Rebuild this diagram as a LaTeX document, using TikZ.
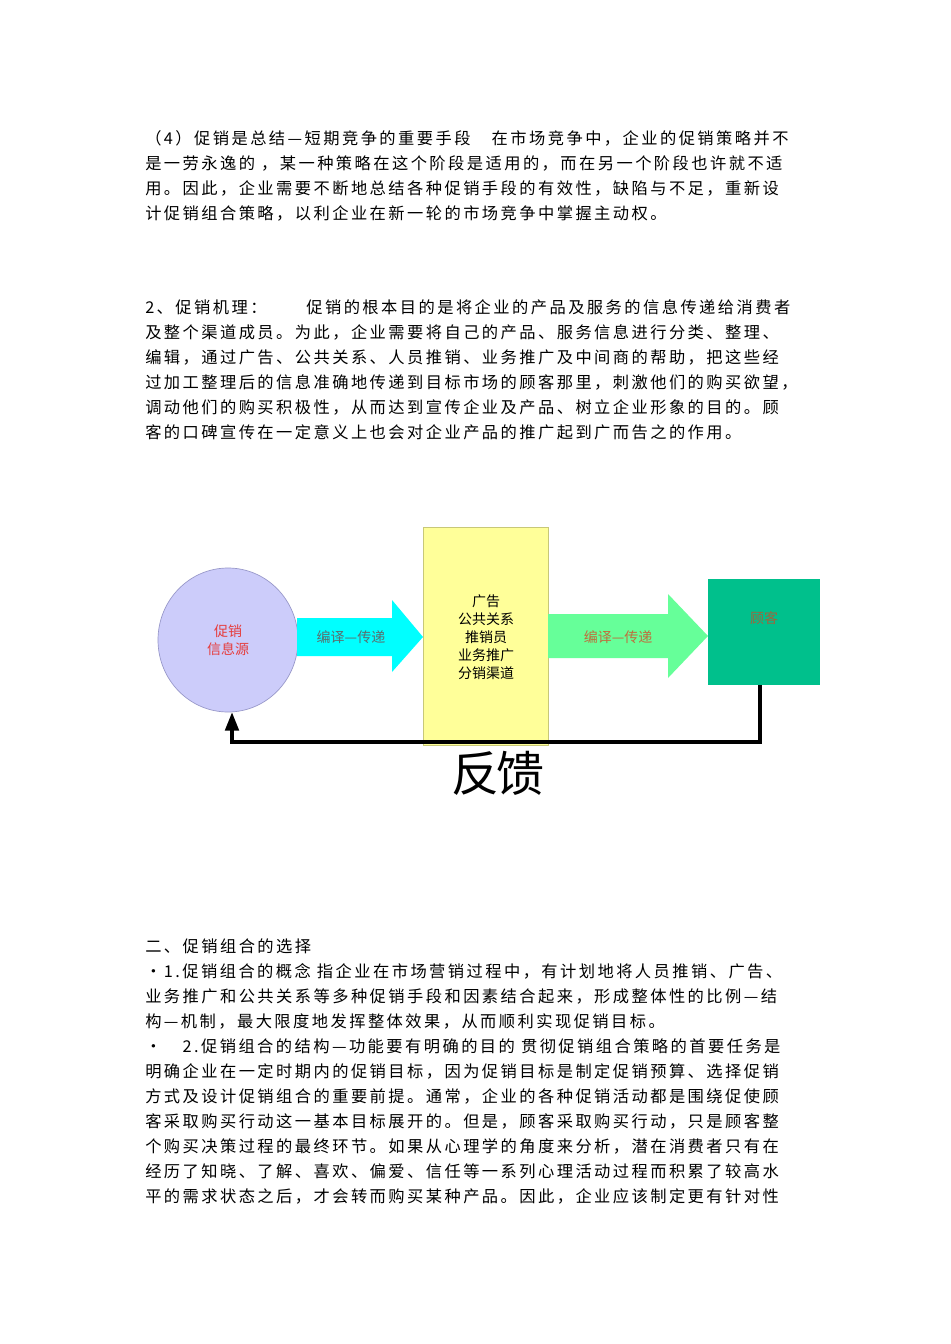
\documentclass[tikz,border=0pt]{standalone}
\usepackage{fontspec}
\setmainfont{Noto Sans CJK SC}
\usetikzlibrary{arrows.meta}
\definecolor{srcfill}{RGB}{204,204,250}
\definecolor{srcdraw}{RGB}{150,150,200}
\definecolor{srctxt}{RGB}{230,60,60}
\definecolor{cyanar}{RGB}{0,255,255}
\definecolor{a1txt}{RGB}{90,110,110}
\definecolor{yelfill}{RGB}{255,255,153}
\definecolor{yeldraw}{RGB}{200,200,120}
\definecolor{grnar}{RGB}{102,255,153}
\definecolor{a2txt}{RGB}{190,110,60}
\definecolor{custfill}{RGB}{0,192,140}
\definecolor{custtxt}{RGB}{160,100,60}
\begin{document}
\begin{tikzpicture}[x=0.75pt,y=-0.75pt,
  bodyline/.style={anchor=west,inner sep=0pt,font=\fontsize{12.2pt}{14pt}\selectfont\addfontfeature{LetterSpace=15}},
  dtext/.style={align=center,font=\fontsize{10.5pt}{13.5pt}\selectfont,inner sep=0pt}]
\useasboundingbox (0,0) rectangle (950,1344);
\fill[white] (0,0) rectangle (950,1344);
\foreach \yy/\tt in {138/（4）促销是总结—短期竞争的重要手段　在市场竞争中，企业的促销策略并不,
163/是一劳永逸的 ，某一种策略在这个阶段是适用的，而在另一个阶段也许就不适,
188/用。因此，企业需要不断地总结各种促销手段的有效性，缺陷与不足，重新设,
213/计促销组合策略，以利企业在新一轮的市场竞争中掌握主动权。,
307/2、促销机理：　　促销的根本目的是将企业的产品及服务的信息传递给消费者,
332/及整个渠道成员。为此，企业需要将自己的产品、服务信息进行分类、整理、,
357/编辑，通过广告、公共关系、人员推销、业务推广及中间商的帮助，把这些经,
382/过加工整理后的信息准确地传递到目标市场的顾客那里，刺激他们的购买欲望，,
407/调动他们的购买积极性，从而达到宣传企业及产品、树立企业形象的目的。顾,
432/客的口碑宣传在一定意义上也会对企业产品的推广起到广而告之的作用。,
946/二、促销组合的选择,
971/•1.促销组合的概念 指企业在市场营销过程中，有计划地将人员推销、广告、,
996/业务推广和公共关系等多种促销手段和因素结合起来，形成整体性的比例—结,
1021/构—机制，最大限度地发挥整体效果，从而顺利实现促销目标。,
1046/•　2.促销组合的结构—功能要有明确的目的 贯彻促销组合策略的首要任务是,
1071/明确企业在一定时期内的促销目标，因为促销目标是制定促销预算、选择促销,
1096/方式及设计促销组合的重要前提。通常，企业的各种促销活动都是围绕促使顾,
1121/客采取购买行动这一基本目标展开的。但是，顾客采取购买行动，只是顾客整,
1146/个购买决策过程的最终环节。如果从心理学的角度来分析，潜在消费者只有在,
1171/经历了知晓、了解、喜欢、偏爱、信任等一系列心理活动过程而积累了较高水,
1196/平的需求状态之后，才会转而购买某种产品。因此，企业应该制定更有针对性}
  \node[bodyline] (l\yy) at (145,\yy) {\tt};
% diagram
\filldraw[fill=srcfill,draw=srcdraw,line width=0.5pt] (228,640) ellipse [x radius=70,y radius=72];
\node[dtext,text=srctxt] (srct) at (228,640) {促销\\信息源};
\fill[cyanar] (297,618) -- (392,618) -- (392,600) -- (423,637) -- (392,672) -- (392,656) -- (297,656) -- cycle;
\node[dtext,text=a1txt] (a1) at (351,637) {编译—传递};
\filldraw[fill=yelfill,draw=yeldraw,line width=0.4pt] (423,527) rectangle (548,745);
\node[dtext] (mid) at (486,637) {广告\\公共关系\\推销员\\业务推广\\分销渠道};
\fill[grnar] (548,614) -- (668,614) -- (668,594) -- (708,636) -- (668,678) -- (668,658) -- (548,658) -- cycle;
\node[dtext,text=a2txt] (a2) at (618,637) {编译—传递};
\fill[custfill] (708,579) rectangle (820,685);
\coordinate (cust) at (760,685);
\node[dtext,text=custtxt] (ct) at (764,618) {顾客};
\coordinate (fb) at (232,712);
\draw[line width=3pt,-{Triangle[length=14pt,width=10pt]}] (cust) -- (760,742) -- (232,742) -- (fb);
\node[font=\fontsize{36pt}{38pt}\selectfont\addfontfeature{LetterSpace=-5},inner sep=0pt] (fbt) at (498,773) {反馈};
\end{tikzpicture}
\end{document}
